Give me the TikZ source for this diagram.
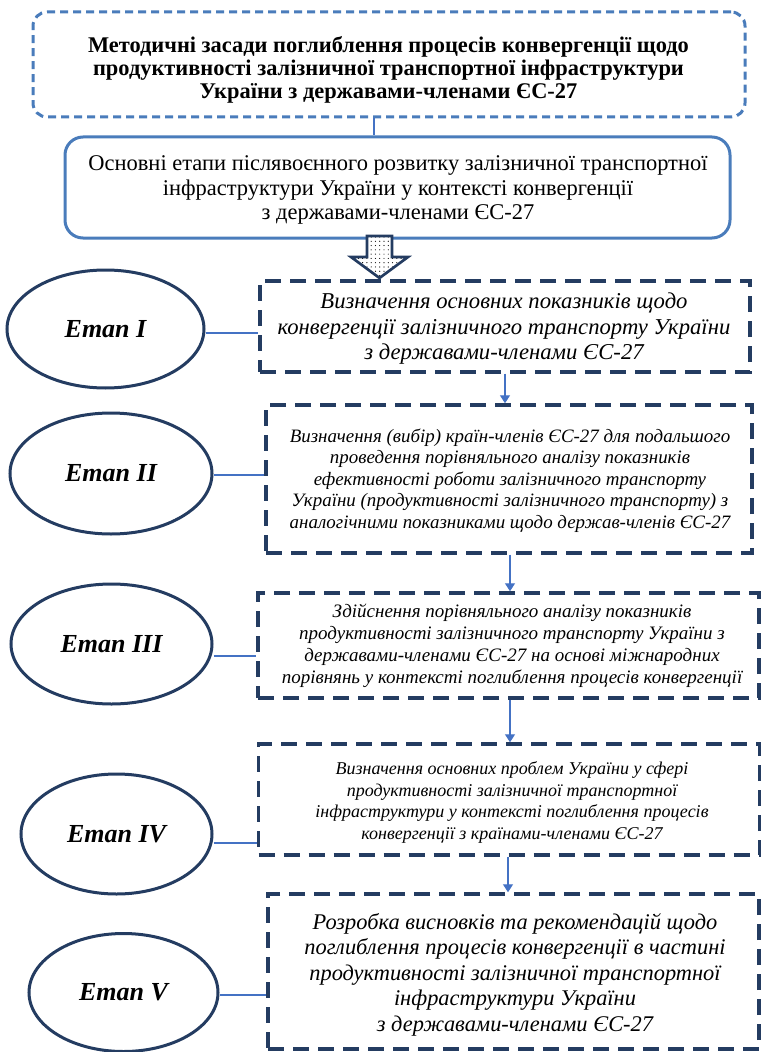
\documentclass[tikz,border=0pt]{standalone}
\usepackage{fontspec}
\setmainfont{Liberation Serif}
\usetikzlibrary{shapes.geometric,arrows.meta,patterns}
\definecolor{navy}{RGB}{36,60,97}
\definecolor{lblue}{RGB}{74,124,187}
\definecolor{cblue}{RGB}{68,114,196}
\pgfdeclarepatternformonly{sparsedots}{\pgfqpoint{-1pt}{-1pt}}{\pgfqpoint{1pt}{1pt}}{\pgfqpoint{3.2pt}{3.2pt}}%
  {\pgfpathcircle{\pgfqpoint{0pt}{0pt}}{0.45pt}\pgfusepath{fill}}
\begin{document}
\begin{tikzpicture}[x=0.75pt,y=-0.75pt,
  topbox/.style={draw=lblue,line width=2.25pt,dash pattern=on 6pt off 3.75pt,rounded corners=10.5pt,inner sep=0pt},
  mainbox/.style={draw=lblue,line width=2.25pt,rounded corners=13.5pt,inner sep=0pt},
  stepbox/.style={draw=navy,line width=2.6pt,dash pattern=on 12pt off 6.75pt,inner sep=0pt},
  stage/.style={ellipse,draw=navy,line width=2.25pt,inner sep=0pt,font=\fontsize{19.5}{22}\selectfont\bfseries\itshape},
  txt/.style={align=center,inner sep=0pt},
  conn/.style={draw=cblue,line width=1pt},
  arr/.style={conn,-{Triangle[width=7.5pt,length=6pt]}}
]
\useasboundingbox (0,0) rectangle (761,1052);

% top box
\node[topbox,minimum width=534pt,minimum height=78.75pt] (top) at (389,64.5) {};
\node[txt,font=\fontsize{16.8}{17.4}\selectfont\bfseries] (toptxt) at (388.5,70)
  {Методичні засади поглиблення процесів конвергенції щодо\\продуктивності залізничної транспортної інфраструктури\\України з державами-членами ЄС-27};

% main box
\node[mainbox,minimum width=498.75pt,minimum height=75.75pt] (main) at (397.5,187.5) {};
\node[txt,font=\fontsize{16.85}{18.4}\selectfont] (maintxt) at (398,190)
  {Основні етапи післявоєнного розвитку залізничної транспортної\\інфраструктури України у контексті конвергенції\\з державами-членами ЄС-27};

\coordinate (c1) at (374,0);
\draw[conn] (top.south -| c1) -- (main.north -| c1);

% block arrow
\draw[navy,line width=2pt,preaction={fill=white},pattern=sparsedots,pattern color=black]
  (367,236) -- (367,257) -- (351,257) -- (379.5,278) -- (408,257) -- (392,257) -- (392,236) -- cycle;

% step boxes
\node[stepbox,minimum width=367.5pt,minimum height=68.25pt] (b1) at (505,326.5) {};
\node[txt,font=\fontsize{17}{19.1}\selectfont\itshape] (t1) at (504,329)
  {Визначення основних показників щодо\\конвергенції залізничного транспорту України\\з державами-членами ЄС-27};

\node[stepbox,minimum width=364.5pt,minimum height=111pt] (b2) at (509,479) {};
\node[txt,font=\fontsize{14.2}{16.1}\selectfont\itshape] (t2) at (510,480.5)
  {Визначення (вибір) країн-членів ЄС-27 для подальшого\\проведення порівняльного аналізу показників\\ефективності роботи залізничного транспорту\\України (продуктивності залізничного транспорту) з\\аналогічними показниками щодо держав-членів ЄС-27};

\node[stepbox,minimum width=375.75pt,minimum height=78.75pt] (b3) at (508.5,645.5) {};
\node[txt,font=\fontsize{14.25}{16.5}\selectfont\itshape] (t3) at (512,645.5)
  {Здійснення порівняльного аналізу показників\\продуктивності залізничного транспорту України з\\державами-членами ЄС-27 на основі міжнародних\\порівнянь у контексті поглиблення процесів конвергенції};

\node[stepbox,minimum width=375.75pt,minimum height=83.25pt] (b4) at (509,799.5) {};
\node[txt,font=\fontsize{13.5}{16.1}\selectfont\itshape] (t4) at (512,802.5)
  {Визначення основних проблем України у сфері\\продуктивності залізничної транспортної\\інфраструктури у контексті поглиблення процесів\\конвергенції з країнами-членами ЄС-27};

\node[stepbox,minimum width=368.25pt,minimum height=116.25pt] (b5) at (513.5,971.5) {};
\node[txt,font=\fontsize{16.8}{19.1}\selectfont\itshape] (t5) at (515,974.5)
  {Розробка висновків та рекомендацій щодо\\поглиблення процесів конвергенції в частині\\продуктивності залізничної транспортної\\інфраструктури України\\з державами-членами ЄС-27};

% arrows between step boxes
\draw[arr] (b1.south) -- (b2.north -| b1.south);
\coordinate (c2) at (510,0);
\draw[arr] (b2.south -| c2) -- (b3.north -| c2);
\draw[arr] (b3.south -| c2) -- (b4.north -| c2);
\coordinate (c3) at (508,0);
\draw[arr] (b4.south -| c3) -- (b5.north -| c3);

% stages
\node[stage,minimum width=147.75pt,minimum height=88.5pt] (e1) at (105.5,329) {Етап I};
\node[stage,minimum width=151.5pt,minimum height=90.75pt] (e2) at (111,473.5) {Етап II};
\node[stage,minimum width=150.75pt,minimum height=90pt] (e3) at (111.5,644) {Етап III};
\node[stage,minimum width=143.25pt,minimum height=90pt] (e4) at (116.5,834) {Етап IV};
\node[stage,minimum width=141.75pt,minimum height=88.5pt] (e5) at (123.5,992.5) {Етап V};

\coordinate (y1) at (0,333);
\coordinate (y2) at (0,475);
\coordinate (y3) at (0,656);
\coordinate (y4) at (0,843);
\coordinate (y5) at (0,995);
\draw[conn] (e1.east |- y1) -- (b1.west |- y1);
\draw[conn] (e2.east |- y2) -- (b2.west |- y2);
\draw[conn] (e3.east |- y3) -- (b3.west |- y3);
\draw[conn] (e4.east |- y4) -- (b4.west |- y4);
\draw[conn] (e5.east |- y5) -- (b5.west |- y5);
\end{tikzpicture}
\end{document}
